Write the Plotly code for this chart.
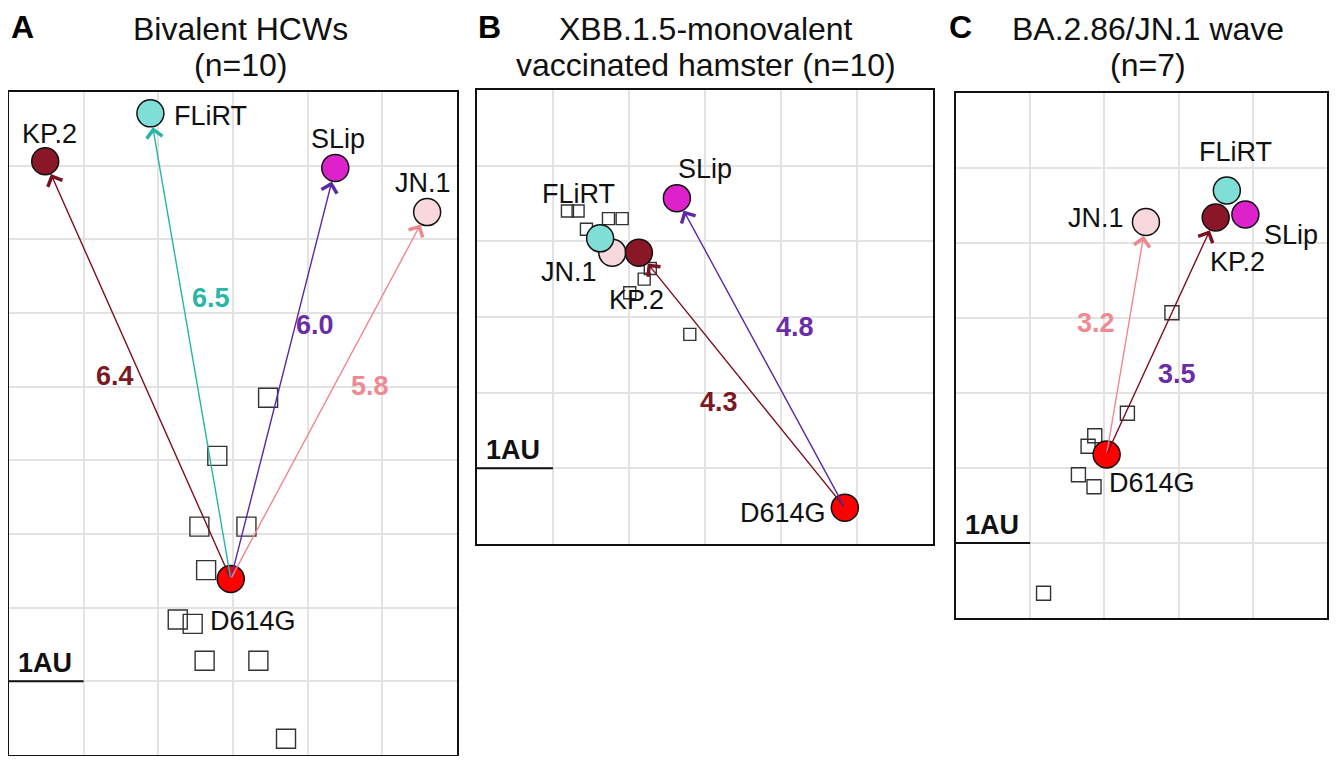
import plotly.graph_objects as go

# ---------------- DATA ----------------
antigens = ["D614G", "KP.2", "FLiRT", "SLip", "JN.1"]

# Panel A: Bivalent HCWs (n=10)
A_ag_x = [2.97, 0.485, 1.894, 4.37, 5.60]
A_ag_y = [2.39, 8.06, 8.71, 7.97, 7.37]
A_sera_x = [3.47, 2.79, 2.55, 3.18, 2.64, 2.26, 2.46, 2.62, 3.34, 3.71]
A_sera_y = [4.85, 4.06, 3.10, 3.10, 2.51, 1.84, 1.78, 1.28, 1.28, 0.22]
A_targets = ["KP.2", "FLiRT", "SLip", "JN.1"]
A_dists = ["6.4", "6.5", "6.0", "5.8"]
A_dist_colors = ["KP.2", "FLiRT", "SLip", "JN.1"]

# Panel B: XBB.1.5-monovalent vaccinated hamster (n=10)
B_ag_x = [4.84, 2.13, 1.62, 2.63, 1.78]
B_ag_y = [0.48, 3.85, 4.04, 4.57, 3.85]
B_sera_x = [1.19, 1.33, 1.73, 1.91, 1.44, 2.28, 2.20, 2.01, 2.80]
B_sera_y = [4.40, 4.40, 4.30, 4.30, 4.16, 3.64, 3.50, 3.32, 2.77]
B_targets = ["KP.2", "SLip"]
B_dists = ["4.3", "4.8"]
B_dist_colors = ["KP.2", "SLip"]

# Panel C: BA.2.86/JN.1 wave (n=7)
C_ag_x = [2.03, 3.50, 3.65, 3.90, 2.56]
C_ag_y = [2.18, 5.34, 5.70, 5.38, 5.28]
C_sera_x = [2.91, 2.31, 1.87, 1.78, 1.65, 1.86, 1.18]
C_sera_y = [4.07, 2.73, 2.43, 2.29, 1.91, 1.75, 0.33]
C_targets = ["JN.1", "KP.2"]
C_dists = ["3.2", "3.5"]
C_dist_colors = ["JN.1", "SLip"]

titles = [("Bivalent HCWs", "(n=10)"),
          ("XBB.1.5-monovalent", "vaccinated hamster (n=10)"),
          ("BA.2.86/JN.1 wave", "(n=7)")]
letters = ["A", "B", "C"]

# ---------------- STYLE / LAYOUT ----------------
OFF = 8                       # page body margin offset
W, H = 1337 - 2 * OFF, 764 - 2 * OFF
FONT = "Liberation Sans, Arial, sans-serif"
fill = {"D614G": "#ff0000", "KP.2": "#8a1727", "FLiRT": "#7fded5",
        "SLip": "#dd22cc", "JN.1": "#f9d8dd"}
arrow_col = {"KP.2": "#7a1020", "FLiRT": "#26b5a4", "SLip": "#5b2aa3", "JN.1": "#f08690"}
dist_col = {"KP.2": "#7b1a25", "FLiRT": "#2ab6a6", "SLip": "#6a2da8", "JN.1": "#f08a92"}


def fx(px):
    return (px - OFF) / W


def fy(py):
    return 1 - (py - OFF) / H


# frame pixel boxes in reference coords (left, right, top, bottom) and data ranges
panels = [
    dict(box=(9, 457, 92, 755), xr=(0, 6), yr=(0, 9), sq=19,
         ag_x=A_ag_x, ag_y=A_ag_y, sx=A_sera_x, sy=A_sera_y,
         targets=A_targets, dists=A_dists, dcols=A_dist_colors,
         dist_pos=[(1.42, 5.14), (2.71, 6.20), (4.10, 5.84), (4.83, 5.01)],
         lab_shift={"KP.2": (4, 27), "FLiRT": (60, -3), "SLip": (3, 29),
                    "JN.1": (-4, 29), "D614G": (22, -42)},
         order=["D614G", "KP.2", "FLiRT", "SLip", "JN.1"],
         title_x=240, letter_x=22),
    dict(box=(477, 933, 90, 544), xr=(0, 6), yr=(0, 6), sq=12,
         ag_x=B_ag_x, ag_y=B_ag_y, sx=B_sera_x, sy=B_sera_y,
         targets=B_targets, dists=B_dists, dcols=B_dist_colors,
         dist_pos=[(3.18, 1.88), (4.18, 2.87)],
         lab_shift={"KP.2": (-2, -47), "FLiRT": (-22, 44), "SLip": (28, 29),
                    "JN.1": (-43, -19), "D614G": (-62, -5)},
         order=["JN.1", "FLiRT", "KP.2", "SLip", "D614G"],
         title_x=706, letter_x=489),
    dict(box=(956, 1327, 93, 618), xr=(0, 5), yr=(0, 7), sq=14,
         ag_x=C_ag_x, ag_y=C_ag_y, sx=C_sera_x, sy=C_sera_y,
         targets=C_targets, dists=C_dists, dcols=C_dist_colors,
         dist_pos=[(1.89, 3.93), (2.98, 3.25)],
         lab_shift={"KP.2": (22, -44), "FLiRT": (9, 39), "SLip": (46, -20),
                    "JN.1": (-50, 4), "D614G": (45, -28)},
         order=["KP.2", "SLip", "FLiRT", "JN.1", "D614G"],
         title_x=1148, letter_x=960),
]

fig = go.Figure()
annotations = []
shapes = []

for i, p in enumerate(panels):
    n = "" if i == 0 else str(i + 1)
    xa, ya = "x" + n, "y" + n
    l, r, t, b = p["box"]
    axis_common = dict(showgrid=True, gridcolor="#e3e3e3", gridwidth=1.5,
                       dtick=1, tick0=0, showticklabels=False, ticks="",
                       zeroline=False, showline=True, mirror=True,
                       linecolor="#111111", linewidth=2, fixedrange=True)
    fig.update_layout(**{
        "xaxis" + n: dict(domain=[fx(l), min(1, fx(r))], range=list(p["xr"]),
                          anchor=ya, **axis_common),
        "yaxis" + n: dict(domain=[max(0, fy(b)), fy(t)], range=list(p["yr"]),
                          anchor=xa, **axis_common),
    })

    # sera (open squares)
    fig.add_trace(go.Scatter(x=p["sx"], y=p["sy"], mode="markers", xaxis=xa, yaxis=ya,
                             marker=dict(symbol="square-open", size=p["sq"],
                                         color="#333333", line=dict(width=1.4)),
                             showlegend=False, hoverinfo="skip"))
    # antigens (filled circles)
    for name in p["order"]:
        k = antigens.index(name)
        fig.add_trace(go.Scatter(x=[p["ag_x"][k]], y=[p["ag_y"][k]], mode="markers",
                                 xaxis=xa, yaxis=ya,
                                 marker=dict(symbol="circle", size=27, color=fill[name],
                                             line=dict(color="#111111", width=1.5)),
                                 showlegend=False, hoverinfo="skip"))
        dx, dy = p["lab_shift"][name]
        annotations.append(dict(x=p["ag_x"][k], y=p["ag_y"][k], xref=xa, yref=ya,
                                text=name, showarrow=False, xshift=dx, yshift=dy,
                                xanchor="center", yanchor="middle",
                                font=dict(family=FONT, size=27, color="#111111")))
    # arrows from D614G
    k0 = antigens.index("D614G")
    for tgt in p["targets"]:
        k = antigens.index(tgt)
        annotations.append(dict(x=p["ag_x"][k], y=p["ag_y"][k], xref=xa, yref=ya,
                                ax=p["ag_x"][k0], ay=p["ag_y"][k0], axref=xa, ayref=ya,
                                text="", showarrow=True, arrowhead=4, arrowsize=2.2,
                                arrowwidth=1.4, arrowcolor=arrow_col[tgt], standoff=14))
    # distance labels
    for (px, py), d, c in zip(p["dist_pos"], p["dists"], p["dcols"]):
        annotations.append(dict(x=px, y=py, xref=xa, yref=ya, text="<b>%s</b>" % d,
                                showarrow=False, xanchor="center", yanchor="middle",
                                font=dict(family=FONT, size=27, color=dist_col[c])))
    # 1 AU scale bar
    shapes.append(dict(type="line", xref=xa, yref=ya, x0=0, x1=1, y0=1, y1=1,
                       line=dict(color="#111111", width=2)))
    annotations.append(dict(x=0.48, y=1, xref=xa, yref=ya, text="<b>1AU</b>",
                            showarrow=False, yshift=18, xanchor="center", yanchor="middle",
                            font=dict(family=FONT, size=27, color="#111111")))
    # titles and panel letters
    l1, l2 = titles[i]
    annotations.append(dict(x=fx(p["title_x"]), y=fy(29), xref="paper", yref="paper",
                            text=l1, showarrow=False, xanchor="center", yanchor="middle",
                            font=dict(family=FONT, size=32, color="#111111")))
    annotations.append(dict(x=fx(p["title_x"]), y=fy(65), xref="paper", yref="paper",
                            text=l2, showarrow=False, xanchor="center", yanchor="middle",
                            font=dict(family=FONT, size=32, color="#111111")))
    annotations.append(dict(x=fx(p["letter_x"]), y=1, xref="paper", yref="paper",
                            text="<b>%s</b>" % letters[i], showarrow=False,
                            xanchor="center", yanchor="top", borderpad=0,
                            font=dict(family=FONT, size=32, color="#000000")))

fig.update_layout(width=W, height=H, margin=dict(l=0, r=0, t=0, b=0),
                  paper_bgcolor="white", plot_bgcolor="white",
                  annotations=annotations, shapes=shapes, showlegend=False)

fig.write_html("out.html", config={"displayModeBar": False})
